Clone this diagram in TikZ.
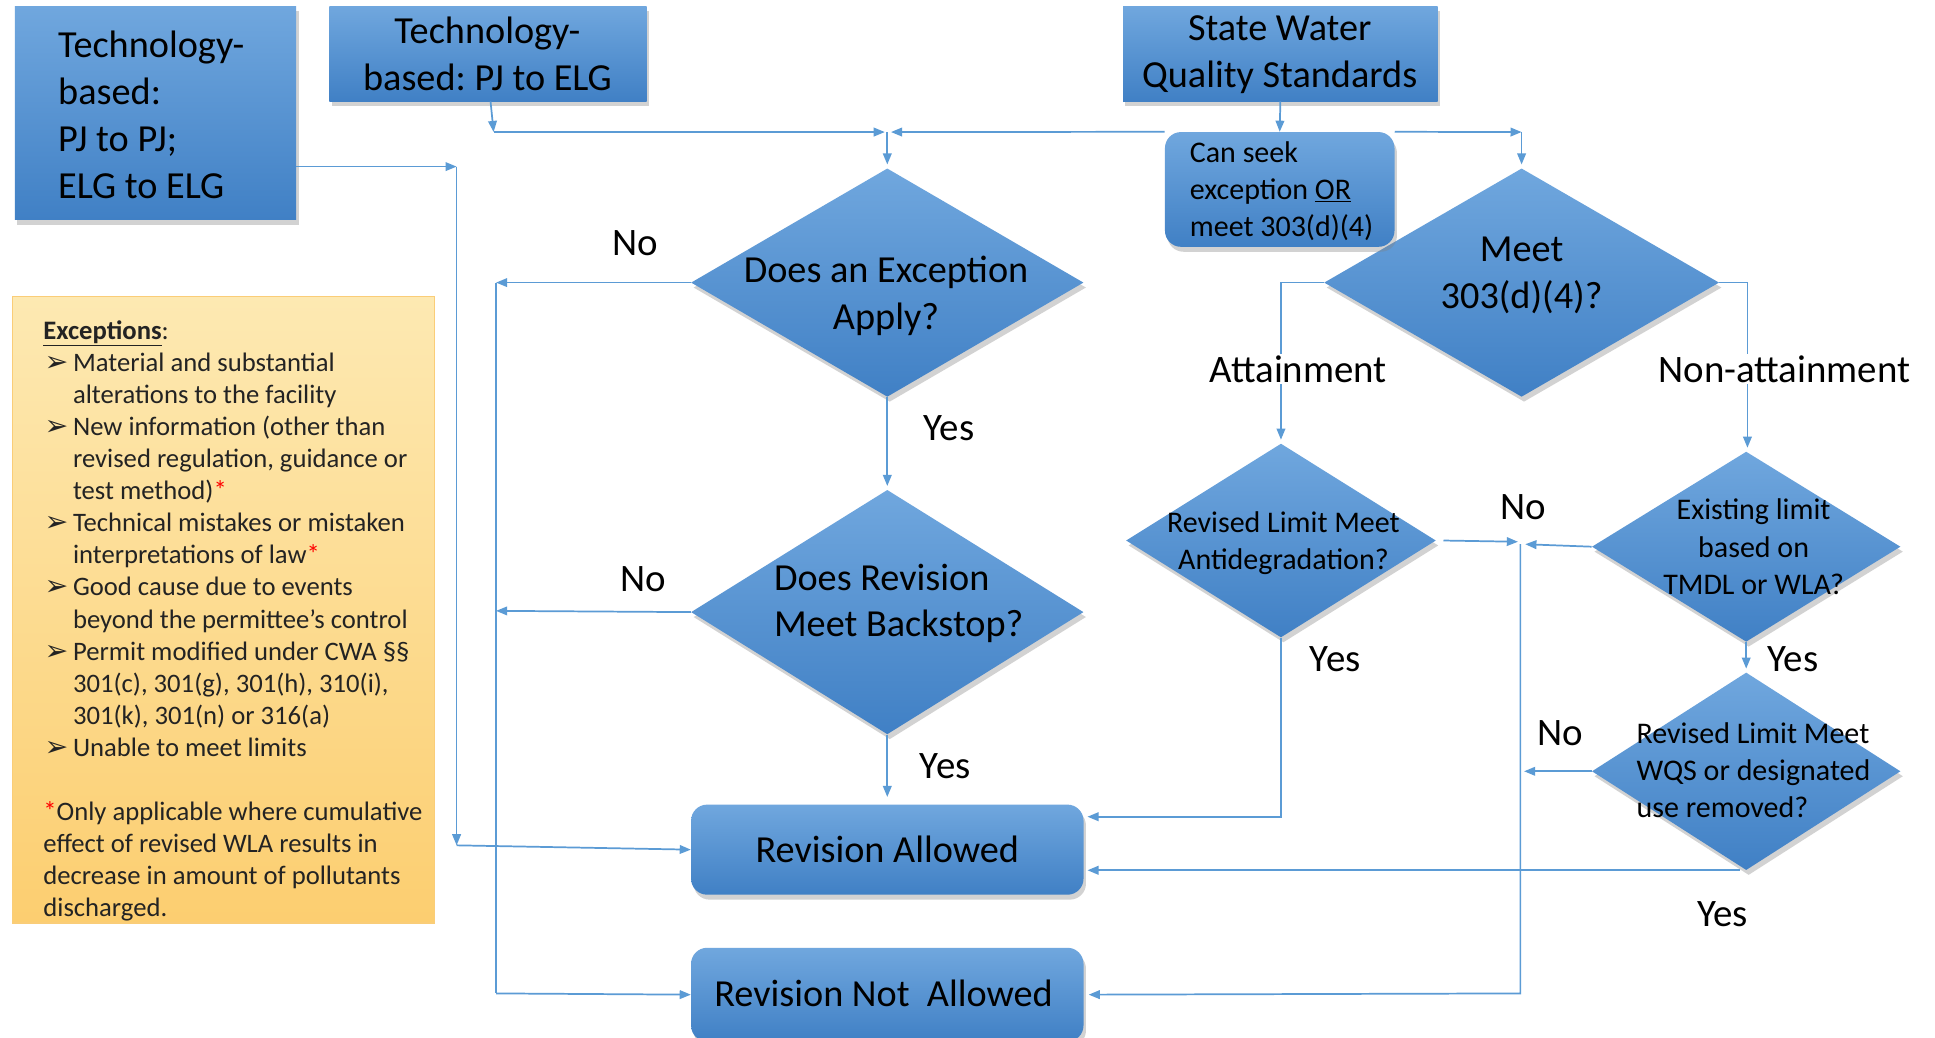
\documentclass[tikz,border=0pt]{standalone}
\usepackage{fontspec}
\setmainfont{Carlito}
\newfontfamily\dejavu{DejaVu Sans}
\usetikzlibrary{shapes.geometric,shadows,arrows.meta}
\definecolor{bTop}{RGB}{112,167,222}
\definecolor{bBot}{RGB}{64,128,197}
\definecolor{lnC}{RGB}{91,155,213}
\definecolor{oTop}{RGB}{253,233,178}
\definecolor{oBot}{RGB}{252,206,112}
\definecolor{oEdge}{RGB}{250,205,120}
\definecolor{exT}{RGB}{35,35,35}
\newcommand\exbul{\hspace*{1pt}\makebox[23pt][l]{\dejavu\fontsize{23}{23}\selectfont ➢}}
\newcommand\exind{\hspace*{24pt}}
\frenchspacing
\begin{document}
\frenchspacing
\begin{tikzpicture}[x=1pt,y=-1pt,
  shad/.style={drop shadow={shadow xshift=2pt,shadow yshift=-4pt,opacity=0.35}},
  bluebox/.style={rectangle, top color=bTop, bottom color=bBot, draw=none, inner sep=0, shad},
  roundbox/.style={bluebox, rounded corners=13pt},
  diam/.style={diamond, top color=bTop, bottom color=bBot, draw=none, inner sep=0, shad},
  conn/.style={draw=lnC, line width=1.4pt},
  arr/.style={conn, -{Triangle[length=9pt,width=7pt]}},
  lbl/.style={font=\fontsize{31.5}{37}\selectfont, fill=white, inner sep=1pt},
  txt/.style={align=center, inner sep=0, font=\fontsize{31}{38}\selectfont},
  stxt/.style={align=center, inner sep=0, font=\fontsize{24.3}{30}\selectfont},
]
\useasboundingbox[fill=white] (0,0) rectangle (1568,841);
\clip (0,0) rectangle (1568,841);

% ---------- coordinates for connector bends ----------
\coordinate (j1) at (370,135);
\coordinate (j1b) at (370,685);
\coordinate (j2) at (400,107);
\coordinate (j3) at (717,107);
\coordinate (j3m) at (719,107);
\coordinate (j4) at (722,107);
\coordinate (j5) at (1233,107);
\coordinate (n1) at (402,229);
\coordinate (n2) at (402,805);
\coordinate (n3) at (402,495);
\coordinate (m1) at (1230,439);
\coordinate (m0) at (1232,441);
\coordinate (m2) at (1236,441);
\coordinate (m3) at (1232,805);
\coordinate (m4) at (1235,625);

% ---------- shapes ----------
\node[bluebox, minimum width=228pt, minimum height=173pt] (boxA) at (126,91.5) {};
\node[bluebox, minimum width=257pt, minimum height=77pt] (boxB) at (395.5,43.5) {};
\node[bluebox, minimum width=255pt, minimum height=77pt] (boxC) at (1037.5,43.5) {};

\node[rectangle, top color=oTop, bottom color=oBot, draw=oEdge, line width=1pt,
      minimum width=342pt, minimum height=508pt] (exbox) at (181,494) {};

\node[diam, minimum width=318pt, minimum height=185pt] (d1) at (719,229) {};
\node[diam, minimum width=318pt, minimum height=198pt] (d2) at (719,496) {};
\node[diam, minimum width=320pt, minimum height=185pt] (d3) at (1233,229) {};
\node[diam, minimum width=251pt, minimum height=157pt] (d4) at (1038,438) {};
\node[diam, minimum width=250pt, minimum height=154pt] (d5) at (1415,443) {};
\node[diam, minimum width=250pt, minimum height=160pt] (d6) at (1415,625) {};

\node[roundbox, minimum width=186pt, minimum height=93pt] (cs) at (1037,153.5) {};
\node[roundbox, minimum width=318pt, minimum height=73pt] (ra) at (719,688.5) {};
\node[roundbox, minimum width=318pt, minimum height=76pt] (rna) at (719,806) {};

% ---------- connectors ----------
\draw[arr] (boxA.east |- j1) -- (j1);
\draw[arr] (j1) -- (j1b);
\draw[arr] (j1b) -- (ra.west);

\draw[arr] ([xshift=2pt]boxB.south) -- (j2);
\draw[arr] (j2) -- (j3);
\draw[arr] (boxC.south) -- (cs.north);
\draw[arr] (cs.north west) -- (j4);
\draw[arr] (cs.north east) -- (j5);
\draw[arr] (j5) -- ([yshift=3pt]d3.north);
\draw[arr] (j3m) -- ([yshift=3pt]d1.north);

\draw[arr] (d1.west) -- (n1);
\draw[conn] (n1) -- (n2);
\draw[arr] (n2) -- (rna.west);
\draw[arr] (d2.west) -- (n3);
\draw[arr] (d1.south) -- ([yshift=3pt]d2.north);
\draw[arr] (d2.south) -- ([yshift=6pt]ra.north);

\draw[arr] (d3.west) -| ([yshift=3pt]d4.north);
\draw[arr] (d3.east) -| ([xshift=1pt,yshift=3pt]d5.north);
\draw[arr] ([xshift=6pt]d4.east) -- (m1);
\draw[arr] (d5.west) -- (m2);
\draw[arr] (m0) -- (m3) -- ([xshift=4pt]rna.east);
\draw[arr] (d6.west) -- (m4);
\draw[arr] (d5.south) -- ([yshift=3pt]d6.north);
\draw[arr] ([xshift=-5pt]d6.south) -- ([xshift=3pt]ra.east |- d6.south);
\draw[arr] (d4.south) |- ([xshift=3pt,yshift=-10pt]ra.north east);

% ---------- texts ----------
\node[txt, align=left, anchor=west] (tA) at (47,93) {Technology-\\based:\\PJ to PJ;\\ELG to ELG};
\node[txt] (tB) at (395,44) {Technology-\\based: PJ to ELG};
\node[txt] (tC) at (1037,44) {State Water\\Quality Standards};
\node[stxt, align=left, anchor=west] (tcs) at (964,155) {Can seek\\exception \underline{OR}\\meet 303(d)(4)};
\node[txt] (t1) at (718,240) {Does an Exception\\Apply?};
\node[txt, align=left, anchor=west] (t2) at (627,489) {Does Revision\\Meet Backstop?};
\node[txt] (t3) at (1233,223) {Meet\\303(d)(4)?};
\node[stxt] (t4) at (1040,440) {Revised Limit Meet\\Antidegradation?};
\node[stxt] (t5) at (1421,443) {Existing limit\\based on\\TMDL or WLA?};
\node[stxt, align=left, anchor=west] (t6) at (1326,624) {Revised Limit Meet\\WQS or designated\\use removed?};
\node[txt] (tra) at (719,688) {Revision Allowed};
\node[txt] (trna) at (716,805) {Revision Not\ \ Allowed};

\node[anchor=north west, inner sep=0, align=left, text=exT,
      font=\fontsize{21.6}{26}\selectfont] (extext) at (35,259.5) {%
\textbf{\underline{Exceptions}}:\\
\exbul Material and substantial\\
\exind alterations to the facility\\
\exbul New information (other than\\
\exind revised regulation, guidance or\\
\exind test method)\textcolor{red}{*}\\
\exbul Technical mistakes or mistaken\\
\exind interpretations of law\textcolor{red}{*}\\
\exbul Good cause due to events\\
\exind beyond the permittee’s control\\
\exbul Permit modified under CWA §§\\
\exind 301(c), 301(g), 301(h), 310(i),\\
\exind 301(k), 301(n) or 316(a)\\
\exbul Unable to meet limits\\[26pt]
\textcolor{red}{*}Only applicable where cumulative\\
effect of revised WLA results in\\
decrease in amount of pollutants\\
discharged.};

% ---------- labels ----------
\node[lbl] (lno1) at (515,197) {No};
\node[lbl] (lno2) at (521,469) {No};
\node[lbl] (lyes1) at (769,347) {Yes};
\node[lbl] (lyes2) at (766,621) {Yes};
\node[lbl] (latt) at (1052,299) {Attainment};
\node[lbl] (lnat) at (1446,299) {Non-attainment};
\node[lbl] (lno3) at (1234,411) {No};
\node[lbl] (lyes3) at (1082,534) {Yes};
\node[lbl] (lyes4) at (1453,534) {Yes};
\node[lbl] (lno4) at (1264,594) {No};
\node[lbl] (lyes5) at (1396,741) {Yes};
\end{tikzpicture}
\end{document}
